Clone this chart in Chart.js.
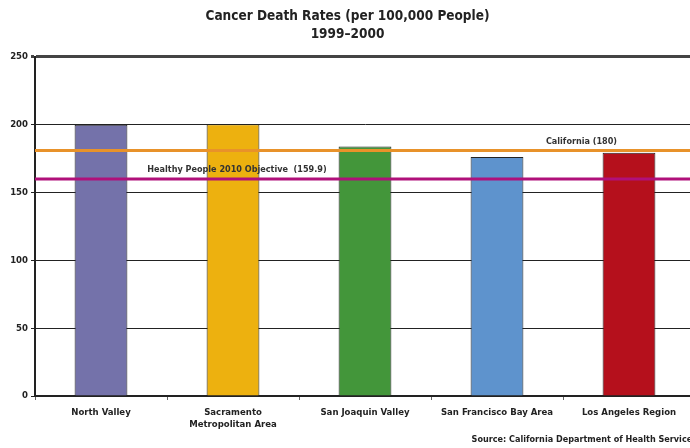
<!DOCTYPE html>
<html>
<head>
<meta charset="utf-8">
<script src="https://cdn.jsdelivr.net/npm/chart.js@4"></script>
<style>
html,body{margin:0;padding:0;background:#fff;overflow:hidden;width:690px;height:448px;}
#wrap{width:735px;height:448px;}
</style>
</head>
<body>
<div id="wrap"><canvas id="c" width="735" height="448"></canvas></div>
<script>
const titleLines = ['Cancer Death Rates (per 100,000 People)', '1999\u20132000'];
const categories = [['North Valley'], ['Sacramento', 'Metropolitan Area'], ['San Joaquin Valley'], ['San Francisco Bay Area'], ['Los Angeles Region']];
const deathRates = [200, 200.3, 184, 176.2, 179.4];
const barColors = ['#7472AA', '#EDB10F', '#43963A', '#5E93CD', '#B5101C'];
const referenceLabels = ['California (180)', 'Healthy People 2010 Objective  (159.9)'];
const referenceValues = [181, 160];
const referenceColors = ['#E8922A', '#B0107A'];
const yTicks = [0, 50, 100, 150, 200, 250];
const sourceText = 'Source: California Department of Health Services';

const FONT = '"DejaVu Sans Condensed", "Liberation Sans Narrow", sans-serif';

const refPlugin = {
  id: 'refLines',
  afterDatasetsDraw(chart) {
    const {ctx, chartArea, scales} = chart;
    const y = scales.y;
    const labelPos = [0.828, 0.306];
    ctx.save();
    referenceValues.forEach((v, i) => {
      const py = y.getPixelForValue(v);
      ctx.strokeStyle = referenceColors[i];
      ctx.lineWidth = 3;
      ctx.beginPath();
      ctx.moveTo(chartArea.left, py);
      ctx.lineTo(chartArea.right, py);
      ctx.stroke();
      ctx.fillStyle = '#333';
      ctx.font = 'bold 9px ' + FONT;
      ctx.textAlign = 'center';
      ctx.textBaseline = 'middle';
      ctx.fillText(referenceLabels[i], chartArea.left + labelPos[i] * (chartArea.right - chartArea.left), py - 9);
    });
    ctx.font = 'bold 9px ' + FONT;
    ctx.textAlign = 'right';
    ctx.textBaseline = 'middle';
    ctx.fillStyle = '#222';
    ctx.fillText(sourceText, chartArea.right + 2, 440);
    ctx.restore();
  }
};

new Chart(document.getElementById('c'), {
  type: 'bar',
  data: {
    labels: categories,
    datasets: [{
      data: deathRates,
      backgroundColor: barColors,
      borderColor: '#222',
      borderWidth: 1,
      barPercentage: 0.4,
      categoryPercentage: 1
    }]
  },
  options: {
    responsive: false,
    animation: false,
    layout: {padding: {right: 40, left: 0, bottom: 0, top: 0}},
    plugins: {
      legend: {display: false},
      tooltip: {enabled: false},
      title: {
        display: true,
        text: titleLines,
        color: '#222',
        font: {family: FONT, size: 13.5, weight: 'bold', lineHeight: 1.33},
        padding: {top: 8, bottom: 13}
      }
    },
    scales: {
      x: {
        offset: true,
        grid: {display: true, drawOnChartArea: false, drawTicks: true, tickLength: 4, color: '#666', offset: true},
        border: {display: true, color: '#222', width: 2},
        ticks: {color: '#222', font: {family: FONT, size: 9.5, weight: 'bold', lineHeight: 1.3}, padding: 6, maxRotation: 0, autoSkip: false},
        afterFit(s) { s.height = 52; }
      },
      y: {
        min: 0, max: 250,
        afterBuildTicks(s) { s.ticks = yTicks.map(v => ({value: v})); },
        grid: {
          color: ctx => ctx.tick && ctx.tick.value === 250 ? '#444' : '#222',
          lineWidth: ctx => ctx.tick && ctx.tick.value === 250 ? 3 : 1,
          tickLength: 4
        },
        border: {display: true, color: '#222', width: 2},
        ticks: {color: '#222', font: {family: FONT, size: 9.5, weight: 'bold'}, padding: 3},
        afterFit(s) { s.width = 35; }
      }
    }
  },
  plugins: [refPlugin]
});
</script>
</body>
</html>
